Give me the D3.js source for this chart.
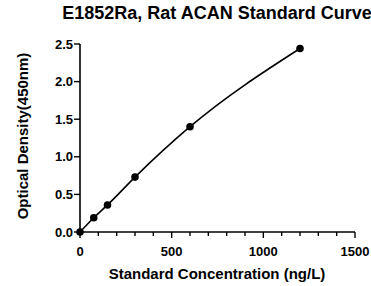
<!DOCTYPE html>
<html>
<head>
<meta charset="utf-8">
<script src="https://cdn.jsdelivr.net/npm/d3@7"></script>
<style>
  body { margin: 0; background: #fff; }
  text { font-family: "Liberation Sans", Arial, sans-serif; font-weight: bold; fill: #000; }
</style>
</head>
<body>
<svg id="chart" width="371" height="286"></svg>
<script>
// standard curve values
const concentrations = [0, 75, 150, 300, 600, 1200];
const densities = [0.0, 0.19, 0.36, 0.73, 1.40, 2.44];
const xTicks = [0, 500, 1000, 1500];
const xMinor = d3.range(0, 1501, 100);
const yTicks = [0, 0.5, 1.0, 1.5, 2.0, 2.5];

const svg = d3.select("#chart");
const margin = { top: 44, right: 16, bottom: 54, left: 80 };

const g = svg.append("g").attr("transform", `translate(${margin.left},${margin.top})`);

const x = d3.scaleLinear().domain([0, 1500]).range([0, 275]);
const y = d3.scaleLinear().domain([0, 2.5]).range([188, 0]);

// x axis with minor ticks
const xAxis = g.append("g").attr("transform", `translate(0,188)`);
xAxis.append("line").attr("x1", 0).attr("x2", x(1500)).attr("stroke", "#000").attr("stroke-width", 1.6);
xAxis.selectAll(".minor").data(xMinor).join("line")
  .attr("x1", (d) => x(d)).attr("x2", (d) => x(d))
  .attr("y1", 0).attr("y2", (d) => (d % 500 === 0 ? 6 : 4))
  .attr("stroke", "#000").attr("stroke-width", 1.4);
xAxis.selectAll("text").data(xTicks).join("text")
  .attr("x", (d) => x(d)).attr("y", 24)
  .attr("text-anchor", "middle").attr("font-size", "13px")
  .text((d) => d);

// y axis
const yAxis = g.append("g");
yAxis.append("line").attr("y1", y(0)).attr("y2", y(2.5)).attr("stroke", "#000").attr("stroke-width", 1.6);
yAxis.selectAll(".tick").data(yTicks).join("line")
  .attr("x1", -6).attr("x2", 0)
  .attr("y1", (d) => y(d)).attr("y2", (d) => y(d))
  .attr("stroke", "#000").attr("stroke-width", 1.4);
yAxis.selectAll("text").data(yTicks).join("text")
  .attr("x", -7).attr("y", (d) => y(d)).attr("dy", "0.35em")
  .attr("text-anchor", "end").attr("font-size", "13px")
  .text((d) => d.toFixed(1));

const pts = concentrations.map((c, i) => ({ c: c, od: densities[i] }));

const line = d3.line()
  .x((d) => x(d.c))
  .y((d) => y(d.od))
  .curve(d3.curveMonotoneX);

g.append("path")
  .datum(pts)
  .attr("fill", "none")
  .attr("stroke", "#000")
  .attr("stroke-width", 1.6)
  .attr("d", line);

g.selectAll(".dot").data(pts).join("circle")
  .attr("cx", (d) => x(d.c)).attr("cy", (d) => y(d.od))
  .attr("r", 3.8).attr("fill", "#000");

// titles
svg.append("text")
  .attr("x", margin.left + 137).attr("y", 19)
  .attr("text-anchor", "middle").attr("font-size", "18px")
  .text("E1852Ra, Rat ACAN Standard Curve");

svg.append("text")
  .attr("x", margin.left + 137).attr("y", 279)
  .attr("text-anchor", "middle").attr("font-size", "15px")
  .text("Standard Concentration (ng/L)");

svg.append("text")
  .attr("transform", `translate(28,${margin.top + 92}) rotate(-90)`)
  .attr("text-anchor", "middle").attr("font-size", "15px")
  .text("Optical Density(450nm)");
</script>
</body>
</html>
